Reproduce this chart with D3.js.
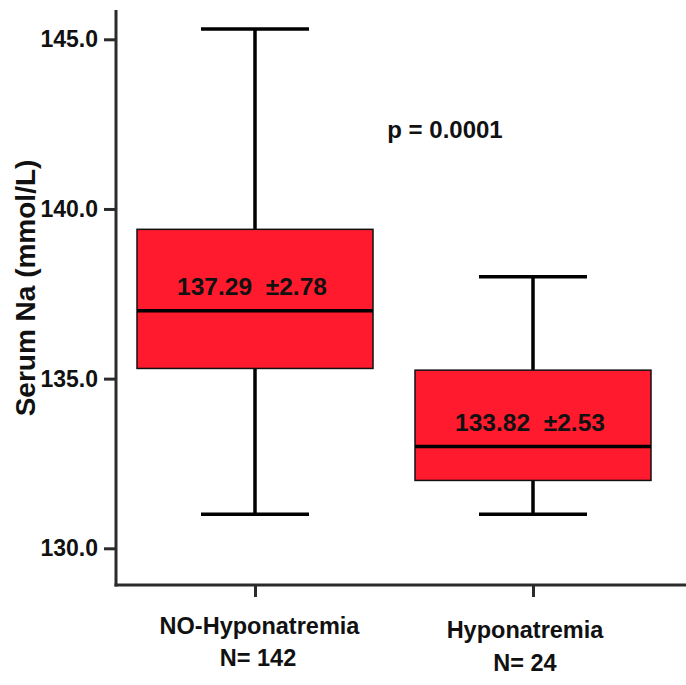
<!DOCTYPE html>
<html><head><meta charset="utf-8">
<script src="https://cdn.jsdelivr.net/npm/d3@7"></script>
<style>body{margin:0;background:#fff}svg{display:block}text{font-family:"Liberation Sans",Arial,sans-serif;font-weight:bold;fill:#111}</style>
</head><body>
<script>
const categories = ["NO-Hyponatremia", "Hyponatremia"];
const counts = ["N= 142", "N= 24"];
const whiskerLow = [131.0, 131.0];
const q1 = [135.3, 132.0];
const median = [137.0, 133.0];
const q3 = [139.4, 135.25];
const whiskerHigh = [145.3, 138.0];
const meanLabels = ["137.29  \u00b12.78", "133.82  \u00b12.53"];
const yTicks = [130, 135, 140, 145];
const pLabel = "p = 0.0001";
const yTitle = "Serum Na (mmol/L)";

const W = 686, H = 685;
const svg = d3.select("body").append("svg").attr("width", W).attr("height", H);
const y = d3.scaleLinear().domain([130, 145]).range([548.3, 39.3]);
const x = d3.scalePoint().domain(categories).range([255, 533]);
const axisX = 116, axisBottom = 585, axisTop = 10;
const boxHalf = 118, capHalf = 54;
const red = "#ff1a2d", axisCol = "#2b2b2b";

// y axis
const yAxis = d3.axisLeft(y).tickValues(yTicks).tickFormat(d3.format(".1f")).tickSize(12).tickPadding(6);
const gy = svg.append("g").attr("transform", `translate(${axisX},0)`).call(yAxis);
gy.select(".domain").remove();
gy.selectAll(".tick line").attr("stroke", axisCol).attr("stroke-width", 3);
gy.selectAll(".tick text").style("font-size", "23px").attr("fill", "#111");
svg.append("line").attr("x1", axisX).attr("x2", axisX).attr("y1", axisTop).attr("y2", axisBottom + 1.5)
  .attr("stroke", axisCol).attr("stroke-width", 3);

// x axis
const xAxis = d3.axisBottom(x).tickSize(12).tickFormat("");
const gx = svg.append("g").attr("transform", `translate(0,${axisBottom})`).call(xAxis);
gx.select(".domain").remove();
gx.selectAll(".tick line").attr("stroke", axisCol).attr("stroke-width", 3);
svg.append("line").attr("x1", axisX - 1.5).attr("x2", W).attr("y1", axisBottom).attr("y2", axisBottom)
  .attr("stroke", axisCol).attr("stroke-width", 3);

// x labels
const labY = [634, 638], nY = [666, 671], labDx = [4.5, -8], nDx = [3, -8];
categories.forEach((c, i) => {
  svg.append("text").attr("x", x(c) + labDx[i]).attr("y", labY[i]).attr("text-anchor", "middle").style("font-size", "23.5px").text(c);
  svg.append("text").attr("x", x(c) + nDx[i]).attr("y", nY[i]).attr("text-anchor", "middle").style("font-size", "23.5px").text(counts[i]);
});

// boxes
const data = categories.map((c, i) => ({c, lo: whiskerLow[i], q1: q1[i], med: median[i], q3: q3[i], hi: whiskerHigh[i], lab: meanLabels[i]}));
const g = svg.selectAll("g.box").data(data).join("g").attr("class", "box");
g.append("line").attr("x1", d => x(d.c)).attr("x2", d => x(d.c)).attr("y1", d => y(d.hi)).attr("y2", d => y(d.q3)).attr("stroke", "#000").attr("stroke-width", 3.5);
g.append("line").attr("x1", d => x(d.c)).attr("x2", d => x(d.c)).attr("y1", d => y(d.q1)).attr("y2", d => y(d.lo)).attr("stroke", "#000").attr("stroke-width", 3.5);
g.append("line").attr("x1", d => x(d.c) - capHalf).attr("x2", d => x(d.c) + capHalf).attr("y1", d => y(d.hi)).attr("y2", d => y(d.hi)).attr("stroke", "#000").attr("stroke-width", 3.5);
g.append("line").attr("x1", d => x(d.c) - capHalf).attr("x2", d => x(d.c) + capHalf).attr("y1", d => y(d.lo)).attr("y2", d => y(d.lo)).attr("stroke", "#000").attr("stroke-width", 3.5);
g.append("rect").attr("x", d => x(d.c) - boxHalf).attr("width", boxHalf * 2)
  .attr("y", d => y(d.q3)).attr("height", d => y(d.q1) - y(d.q3))
  .attr("fill", red).attr("stroke", "#111").attr("stroke-width", 1.5);
g.append("line").attr("x1", d => x(d.c) - boxHalf).attr("x2", d => x(d.c) + boxHalf).attr("y1", d => y(d.med)).attr("y2", d => y(d.med)).attr("stroke", "#000").attr("stroke-width", 3.5);
g.append("text").attr("x", d => x(d.c) - 3).attr("y", d => y(d.med) - 16).attr("text-anchor", "middle")
  .style("font-size", "24px").style("white-space", "pre").attr("xml:space", "preserve")
  .attr("textLength", 150).attr("lengthAdjust", "spacingAndGlyphs").text(d => d.lab);

// p value
svg.append("text").attr("x", 445).attr("y", 138).attr("text-anchor", "middle").style("font-size", "24px").text(pLabel);

// y title
svg.append("text").attr("transform", "translate(35,288) rotate(-90)").attr("text-anchor", "middle")
  .style("font-size", "28px").text(yTitle);
</script>
</body></html>
